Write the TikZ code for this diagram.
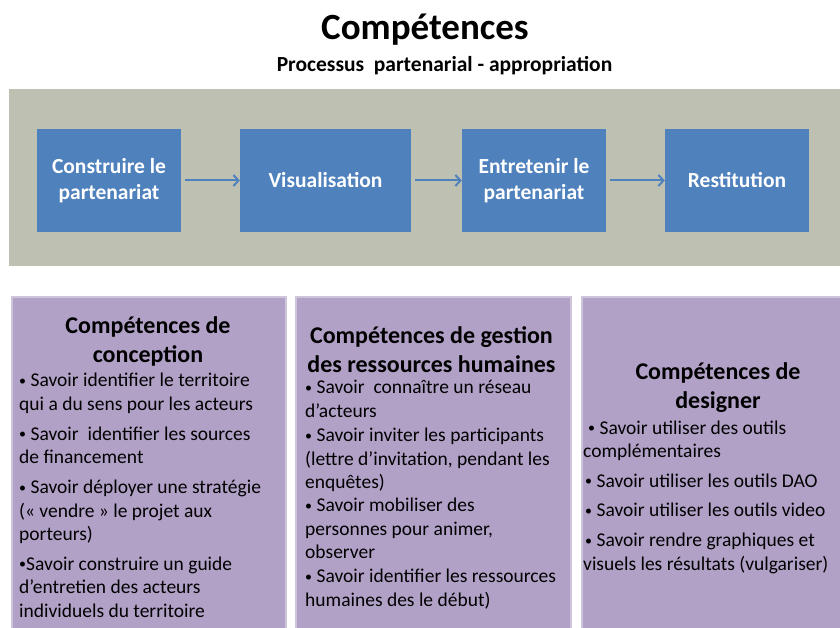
\documentclass[tikz,border=0pt]{standalone}
\usepackage{fontspec}
\setmainfont{Carlito}
\usetikzlibrary{arrows.meta}
\definecolor{bandgrey}{HTML}{BEC1B1}
\definecolor{boxblue}{HTML}{4F81BD}
\definecolor{boxpurple}{HTML}{B2A1C7}
\definecolor{purpleedge}{HTML}{CEC4DC}
\newcommand{\smallbul}{{\fontsize{14bp}{14bp}\selectfont\raisebox{1.5bp}{•}}}
\begin{document}
\begin{tikzpicture}[x=1bp,y=-1bp,
 stepbox/.style={fill=boxblue, draw=none, minimum height=103bp, inner sep=0pt, text=white,
   font=\fontsize{21.5bp}{26bp}\selectfont\bfseries, align=center},
 flow/.style={draw=boxblue, line width=2bp, -{Straight Barb[length=5bp,width=11bp]}, shorten <=4bp},
 compbox/.style={fill=boxpurple, draw=purpleedge, line width=2bp, inner sep=0pt, anchor=north west, minimum height=360bp},
 head/.style={font=\fontsize{24bp}{29bp}\selectfont\bfseries, align=center, anchor=base, inner sep=0pt},
 body/.style={font=\fontsize{19.5bp}{23.3bp}\selectfont, align=left, anchor=base west, inner sep=0pt}]
\useasboundingbox (0,0) rectangle (840,628);
\clip (0,0) rectangle (840,628);
\fill[white] (0,0) rectangle (840,628);

\node[anchor=base, inner sep=0pt, font=\fontsize{37bp}{44bp}\selectfont\bfseries] (title) at (425,40) {Compétences};
\node[anchor=base, inner sep=0pt, font=\fontsize{21.5bp}{26bp}\selectfont\bfseries] (subtitle) at (444.5,72) {Processus \ partenarial - appropriation};

\node[fill=bandgrey, anchor=north west, minimum width=840bp, minimum height=177bp, inner sep=0pt] (band) at (9,89) {};

\node[stepbox, minimum width=144bp] (b1) at (109,180.5) {Construire le\\partenariat};
\node[stepbox, minimum width=171bp] (b2) at (325.5,180.5) {Visualisation};
\node[stepbox, minimum width=144bp] (b3) at (534,180.5) {Entretenir le\\partenariat};
\node[stepbox, minimum width=144bp] (b4) at (737,180.5) {Restitution};

\draw[flow] (b1) -- (b2);
\draw[flow] (b2) -- (b3);
\draw[flow] (b3) -- (b4);

\node[compbox, minimum width=274bp] (ca) at (11,296) {};
\node[compbox, minimum width=275bp] (cb) at (295,296) {};
\node[compbox, minimum width=274bp] (cc) at (581,296) {};

\node[head] (ha) at (148,362) {Compétences de\\conception};
\node[head] (hb) at (431.5,372) {Compétences de gestion\\des ressources humaines};
\node[head] (hc) at (718,408) {Compétences de\\designer};

\node[body] (ta) at (19,617) {\smallbul\ Savoir identifier le territoire\\
qui a du sens pour les acteurs\\[6.8bp]
\smallbul\ Savoir \ identifier les sources\\
de financement\\[6.8bp]
\smallbul\ Savoir déployer une stratégie\\
(« vendre » le projet aux\\
porteurs)\\[6.8bp]
\smallbul Savoir construire un guide\\
d’entretien des acteurs\\
individuels du territoire};

\node[body] (tb) at (305,606) {\smallbul\ Savoir \ connaître un réseau\\
d’acteurs\\[1.5bp]
\smallbul\ Savoir inviter les participants\\
(lettre d’invitation, pendant les\\
enquêtes)\\
\smallbul\ Savoir mobiliser des\\
personnes pour animer,\\
observer\\[1bp]
\smallbul\ Savoir identifier les ressources\\
humaines des le début)};

\node[body] (tc) at (583,570) {\hspace*{5bp}\smallbul\ Savoir utiliser des outils\\
complémentaires\\[6.5bp]
\hspace*{2bp}\smallbul\ Savoir utiliser les outils DAO\\[6.5bp]
\hspace*{2bp}\smallbul\ Savoir utiliser les outils video\\[6.5bp]
\hspace*{2bp}\smallbul\ Savoir rendre graphiques et\\
visuels les résultats (vulgariser)};
\end{tikzpicture}
\end{document}
